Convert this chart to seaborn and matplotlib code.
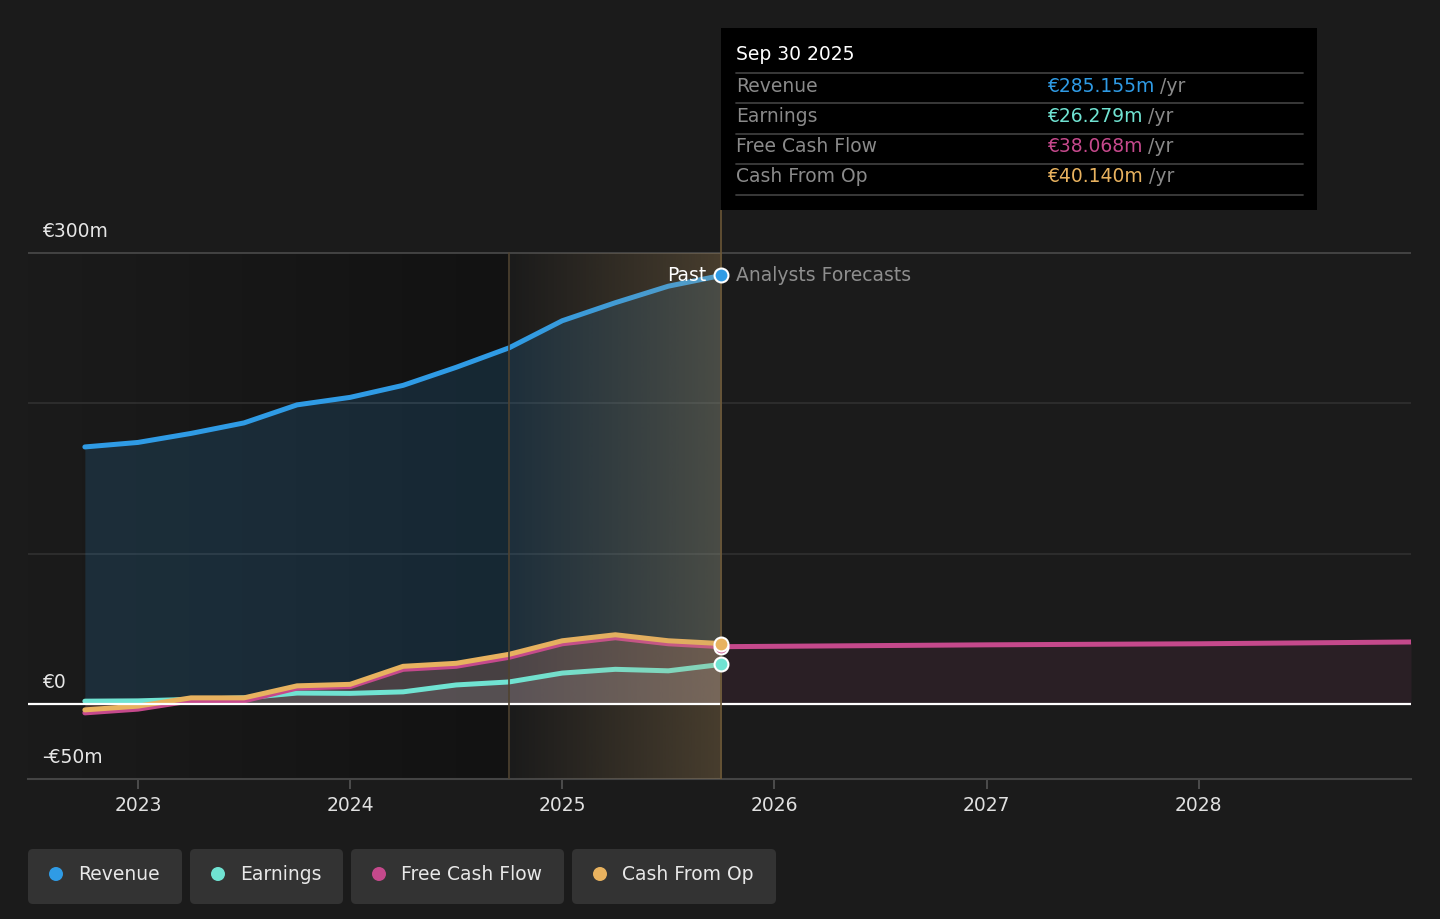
import numpy as np
import pandas as pd
import matplotlib
matplotlib.use("Agg")
import matplotlib.pyplot as plt
import seaborn as sns
from matplotlib.patches import Rectangle, FancyBboxPatch, Circle

# ---------------- data ----------------
quarters = [2022.75, 2023.0, 2023.25, 2023.5, 2023.75, 2024.0, 2024.25,
            2024.5, 2024.75, 2025.0, 2025.25, 2025.5, 2025.75]
revenue = [171, 174, 180, 187, 199, 204, 212, 224, 237, 255, 267, 278, 285.155]
earnings = [1.8, 2.0, 3.0, 4.0, 7.2, 7.0, 8.0, 12.6, 14.6, 20.5, 23.0, 22.0, 26.279]
free_cash_flow = [-6.0, -3.5, 2.0, 2.0, 10.5, 11.5, 23.0, 25.0, 31.0, 40.0, 44.0, 40.0, 38.068]
cash_from_op = [-4.0, -1.5, 4.0, 4.0, 12.0, 13.0, 25.0, 27.0, 33.0, 42.0, 46.0, 42.0, 40.140]
forecast_years = [2025.75, 2027.0, 2028.0, 2029.0]
forecast_fcf = [38.068, 39.3, 40.0, 41.2]

year_ticks = [2023, 2024, 2025, 2026, 2027, 2028]
y_labels = {300: "€300m", 0: "€0", -50: "-€50m"}
series_names = ["Revenue", "Earnings", "Free Cash Flow", "Cash From Op"]
tooltip_values = ["€285.155m", "€26.279m", "€38.068m", "€40.140m"]
tooltip_date = "Sep 30 2025"

# ---------------- style ----------------
BG = "#1b1b1b"
C_REV = "#2f9be5"
C_EARN = "#70e3d2"
C_FCF = "#c5498c"
C_CFO = "#e8b25f"
colors = [C_REV, C_EARN, C_FCF, C_CFO]

sns.set_style("dark")
plt.rcParams["font.family"] = ["DejaVu Sans"]
FS = 13.5

W, H = 1440, 919
fig = plt.figure(figsize=(W / 100, H / 100), dpi=100, facecolor=BG)

X0, X1 = 2022.482, 2029.0
Y0, Y1 = -50, 328.7
ax = fig.add_axes([28 / W, 1 - 779 / H, (1411 - 28) / W, (779 - 210) / H])
ax.set_facecolor(BG)

df = pd.DataFrame({"date": quarters, "Revenue": revenue, "Earnings": earnings,
                   "Free Cash Flow": free_cash_flow, "Cash From Op": cash_from_op})
fc = pd.DataFrame({"date": forecast_years, "fcf": forecast_fcf})

# past region background gradient
grad = np.linspace(0, 1, 256)[None, :]
c_left = np.array([27, 27, 27]) / 255
c_right = np.array([18, 18, 18]) / 255
img = (c_left[None, None, :] * (1 - grad[..., None]) + c_right[None, None, :] * grad[..., None])
ax.imshow(img, extent=[X0, 2024.75, -50, 300], aspect="auto", zorder=0.5, interpolation="bicubic")

# highlight overlay (last year)
hl = np.zeros((1, 256, 4))
hl[..., 0] = 200 / 255
hl[..., 1] = 160 / 255
hl[..., 2] = 100 / 255
hl[..., 3] = np.linspace(0.0, 0.26, 256)
ax.imshow(hl, extent=[2024.75, 2025.75, -50, 300], aspect="auto", zorder=5, interpolation="bicubic")

# gridlines
for gy, gc in [(100, "#303030"), (200, "#303030"), (300, "#4a4a4a")]:
    ax.axhline(gy, color=gc, lw=1.2, zorder=1)

# fills
ax.fill_between(df["date"], df["Revenue"], 0, color=C_REV, alpha=0.16, lw=0, zorder=1.5)
ax.fill_between(df["date"], df["Cash From Op"], 0, color=C_CFO, alpha=0.17, lw=0, zorder=1.6)
ax.fill_between(df["date"], df["Free Cash Flow"], 0, color=C_FCF, alpha=0.10, lw=0, zorder=1.7)
ax.fill_between(df["date"], df["Earnings"], 0, color="#d8d8d8", alpha=0.10, lw=0, zorder=1.8)
ax.fill_between(fc["date"], fc["fcf"], 0, color=C_FCF, alpha=0.09, lw=0, zorder=1.5)

# lines
lw = 3.6
sns.lineplot(data=df, x="date", y="Earnings", color=C_EARN, lw=lw, ax=ax, zorder=3)
sns.lineplot(data=df, x="date", y="Free Cash Flow", color=C_FCF, lw=lw, ax=ax, zorder=3.2)
sns.lineplot(data=df, x="date", y="Cash From Op", color=C_CFO, lw=lw, ax=ax, zorder=3.4)
sns.lineplot(data=df, x="date", y="Revenue", color=C_REV, lw=lw, ax=ax, zorder=3.6)
sns.lineplot(data=fc, x="date", y="fcf", color=C_FCF, lw=lw, ax=ax, zorder=3.2)

# zero line
ax.axhline(0, color="white", lw=1.6, zorder=6)

# vertical separators
ax.plot([2024.75, 2024.75], [-50, 300], color="#4f4331", lw=1.2, zorder=6)
ax.plot([2025.75, 2025.75], [-50, Y1], color="#6b5736", lw=1.2, zorder=6)

# end markers
ms = 10
ax.plot([quarters[-1]], [earnings[-1]], "o", color=C_EARN, mec="white", mew=1.5, ms=ms, zorder=10)
ax.plot([quarters[-1]], [free_cash_flow[-1]], "o", color=C_FCF, mec="white", mew=1.5, ms=ms, zorder=10)
ax.plot([quarters[-1]], [cash_from_op[-1]], "o", color=C_CFO, mec="white", mew=1.5, ms=ms, zorder=10)
ax.plot([quarters[-1]], [revenue[-1]], "o", color=C_REV, mec="white", mew=1.5, ms=ms, zorder=10)

ax.annotate("Past", xy=(quarters[-1], revenue[-1]), xytext=(-15, 0), textcoords="offset pixels",
            ha="right", va="center", color="white", fontsize=FS, zorder=11)
ax.annotate("Analysts Forecasts", xy=(quarters[-1], revenue[-1]), xytext=(15, 0),
            textcoords="offset pixels", ha="left", va="center", color="#8e8e8e", fontsize=FS, zorder=11)

# y labels
for val, lab in y_labels.items():
    ax.annotate(lab, xy=(0, val), xycoords=("axes fraction", "data"), xytext=(14, 12),
                textcoords="offset pixels", ha="left", va="bottom", color="#e6e6e6", fontsize=FS)

ax.set_xlim(X0, X1)
ax.set_ylim(Y0, Y1)
ax.set_yticks([])
ax.set_xticks(year_ticks)
ax.set_xticklabels([str(y) for y in year_ticks])
ax.tick_params(axis="x", colors="#555555", length=7, width=1.2, labelcolor="#e0e0e0",
               labelsize=FS, pad=5, bottom=True, direction="out")
ax.set_xlabel("")
ax.set_ylabel("")
for s in ["top", "right", "left"]:
    ax.spines[s].set_visible(False)
ax.spines["bottom"].set_color("#444444")
ax.spines["bottom"].set_linewidth(1.5)
ax.grid(False)

# ---------------- overlay (tooltip + legend) ----------------
ov = fig.add_axes([0, 0, 1, 1], zorder=20)
ov.set_xlim(0, W)
ov.set_ylim(H, 0)
ov.axis("off")
ov.patch.set_alpha(0)

ov.add_patch(Rectangle((721, 28), 596, 182, facecolor="#000000", edgecolor="none"))
ov.text(736, 55, tooltip_date, color="white", fontsize=FS, va="center", ha="left")
for yy in [73, 103, 134, 164, 195]:
    ov.plot([736, 1303], [yy, yy], color="#3d3d3d", lw=1.3)
row_y = [86, 116, 147, 177]
for name, val, col, ry in zip(series_names, tooltip_values, colors, row_y):
    ov.text(736, ry, name, color="#8a8a8a", fontsize=FS, va="center", ha="left")
    t = ov.text(1047, ry, val, color=col, fontsize=FS, va="center", ha="left")
    ov.annotate("/yr", xy=(1, 0), xycoords=t, xytext=(6, 0), textcoords="offset pixels",
                ha="left", va="bottom", color="#8a8a8a", fontsize=FS)

# legend
boxes = [(28, 182), (190, 343), (351, 564), (572, 776)]
for (bx0, bx1), name, col in zip(boxes, series_names, colors):
    ov.add_patch(FancyBboxPatch((bx0 + 5, 849 + 5), bx1 - bx0 - 10, 55 - 10,
                                boxstyle="round,pad=5", facecolor="#333333", edgecolor="none"))
    ov.add_patch(Circle((bx0 + 28, 874), 7, facecolor=col, edgecolor="none"))
    ov.text(bx0 + 50, 874, name, color="#e8e8e8", fontsize=FS, va="center", ha="left")

fig.savefig("out.png", dpi=100, facecolor=BG)
